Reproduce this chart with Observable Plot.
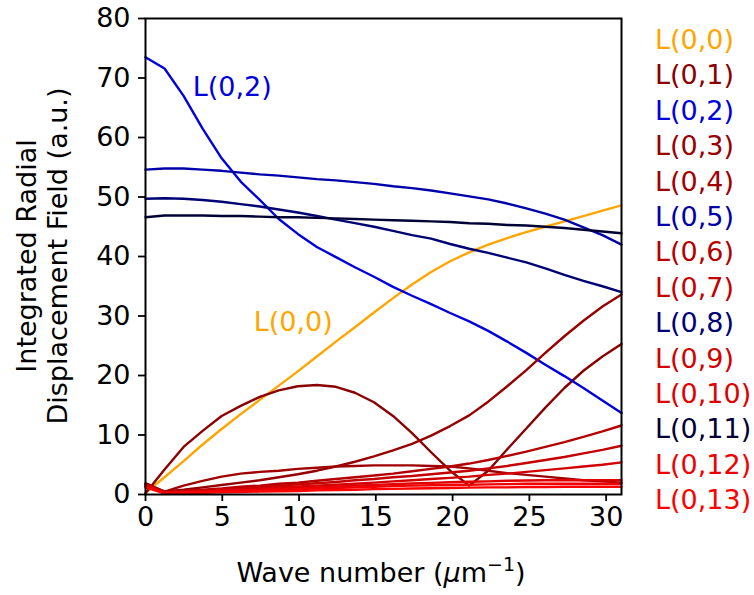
<!DOCTYPE html>
<html>
<head>
<meta charset="utf-8">
<script src="https://cdn.jsdelivr.net/npm/d3@7"></script>
<script src="https://cdn.jsdelivr.net/npm/@observablehq/plot@0.6"></script>
<style>
  html, body { margin: 0; padding: 0; background: #fff; }
  #wrap { position: relative; width: 754px; height: 595px; }
  #legend { position: absolute; left: 655px; top: 22px; font-family: "DejaVu Sans", sans-serif; font-size: 27px; line-height: 35.4px; }
</style>
</head>
<body>
<div id="wrap"><div id="legend"></div></div>
<script>
// Wave numbers (μm^-1) at which the fields were sampled
const waveNumbers = [0, 1.24, 2.48, 3.72, 4.96, 6.2, 7.44, 8.68, 9.92, 11.16, 12.4, 13.64, 14.88, 16.12, 17.36, 18.6, 19.84, 21.08, 22.32, 23.56, 24.8, 26.04, 27.28, 28.52, 29.76, 31.0];

const seriesNames = ["L(0,0)", "L(0,1)", "L(0,2)", "L(0,3)", "L(0,4)", "L(0,5)", "L(0,6)", "L(0,7)", "L(0,8)", "L(0,9)", "L(0,10)", "L(0,11)", "L(0,12)", "L(0,13)"];
const seriesColors = ["#ffa500", "#8b0000", "#0000dd", "#960000", "#a00000", "#0000aa", "#b40000", "#c40000", "#000075", "#d20000", "#e00000", "#000035", "#f00000", "#ff0000"];

const L00 = [0.3, 2.9, 5.6, 8.4, 11.0, 13.5, 15.9, 18.3, 20.7, 23.2, 25.7, 28.1, 30.6, 33.0, 35.3, 37.4, 39.2, 40.7, 42.0, 43.1, 44.1, 45.0, 45.9, 46.8, 47.7, 48.6];
const L01 = [0.2, 4.2, 8.0, 10.7, 13.2, 14.9, 16.4, 17.5, 18.2, 18.4, 18.1, 17.1, 15.5, 13.2, 10.3, 7.1, 4.0, 1.5, 4.0, 7.6, 11.1, 14.6, 17.9, 20.8, 23.2, 25.3];
const L02 = [73.5, 71.6, 67.0, 61.5, 56.5, 52.6, 49.5, 46.3, 43.8, 41.6, 39.9, 38.2, 36.6, 34.9, 33.4, 32.0, 30.5, 29.1, 27.5, 25.7, 23.8, 21.8, 19.9, 17.9, 15.8, 13.7];
const L03 = [1.9, 0.5, 0.8, 1.2, 1.6, 2.0, 2.4, 2.9, 3.4, 4.0, 4.7, 5.5, 6.4, 7.4, 8.5, 9.9, 11.5, 13.3, 15.6, 18.2, 20.9, 23.8, 26.6, 29.2, 31.6, 33.6];
const L04 = [1.8, 0.5, 1.5, 2.3, 3.0, 3.5, 3.8, 4.0, 4.3, 4.5, 4.7, 4.8, 4.9, 4.9, 4.9, 4.8, 4.7, 4.4, 4.0, 3.6, 3.3, 3.0, 2.7, 2.4, 2.2, 2.0];
const L05 = [54.6, 54.8, 54.8, 54.6, 54.4, 54.1, 53.8, 53.6, 53.3, 53.0, 52.8, 52.5, 52.2, 51.8, 51.5, 51.1, 50.6, 50.1, 49.6, 48.9, 48.1, 47.2, 46.2, 44.9, 43.6, 42.0];
const L06 = [1.7, 0.4, 0.6, 0.8, 1.0, 1.3, 1.5, 1.8, 2.0, 2.3, 2.6, 2.9, 3.2, 3.5, 3.9, 4.3, 4.7, 5.2, 5.8, 6.5, 7.2, 8.0, 8.8, 9.7, 10.6, 11.6];
const L07 = [1.6, 0.35, 0.5, 0.7, 0.9, 1.1, 1.3, 1.5, 1.7, 1.9, 2.1, 2.4, 2.6, 2.9, 3.1, 3.4, 3.7, 4.0, 4.4, 4.8, 5.3, 5.8, 6.3, 6.9, 7.5, 8.2];
const L08 = [49.7, 49.8, 49.7, 49.5, 49.2, 48.8, 48.4, 47.9, 47.4, 46.8, 46.2, 45.6, 45.0, 44.3, 43.6, 43.0, 42.1, 41.3, 40.6, 39.8, 39.0, 38.0, 36.9, 35.9, 35.0, 34.0];
const L09 = [1.5, 0.3, 0.45, 0.6, 0.75, 0.9, 1.05, 1.2, 1.35, 1.5, 1.65, 1.8, 2.0, 2.2, 2.4, 2.6, 2.8, 3.0, 3.3, 3.5, 3.8, 4.1, 4.4, 4.7, 5.0, 5.4];
const L10 = [1.4, 0.3, 0.4, 0.5, 0.6, 0.7, 0.8, 0.95, 1.1, 1.2, 1.35, 1.5, 1.6, 1.75, 1.85, 1.95, 2.05, 2.15, 2.2, 2.3, 2.35, 2.4, 2.4, 2.4, 2.4, 2.4];
const L11 = [46.6, 46.9, 46.9, 46.9, 46.8, 46.8, 46.7, 46.6, 46.6, 46.5, 46.4, 46.3, 46.2, 46.1, 46.0, 45.9, 45.8, 45.6, 45.5, 45.3, 45.2, 45.0, 44.8, 44.5, 44.2, 43.9];
const L12 = [1.3, 0.25, 0.3, 0.4, 0.5, 0.6, 0.7, 0.8, 0.9, 1.0, 1.1, 1.2, 1.3, 1.4, 1.5, 1.55, 1.6, 1.65, 1.7, 1.75, 1.8, 1.8, 1.8, 1.8, 1.8, 1.8];
const L13 = [1.2, 0.2, 0.25, 0.3, 0.35, 0.4, 0.5, 0.55, 0.6, 0.7, 0.75, 0.8, 0.9, 0.95, 1.0, 1.05, 1.1, 1.15, 1.2, 1.2, 1.25, 1.25, 1.3, 1.3, 1.3, 1.3];

const xTicks = [0, 5, 10, 15, 20, 25, 30];
const yTicks = [0, 10, 20, 30, 40, 50, 60, 70, 80];

// In-plot annotations (anchor in data units)
const annotNames = ["L(0,2)", "L(0,0)"];
const annotX = [3.07, 7.05];
const annotY = [68.4, 28.9];

const allSeries = [L00, L01, L02, L03, L04, L05, L06, L07, L08, L09, L10, L11, L12, L13];
const rows = [];
allSeries.forEach((vals, i) => {
  vals.forEach((v, j) => rows.push({series: seriesNames[i], k: waveNumbers[j], value: v}));
});
const annots = annotNames.map((t, i) => ({text: t, x: annotX[i], y: annotY[i], color: seriesColors[seriesNames.indexOf(t)]}));

const FONT = "DejaVu Sans, sans-serif";

const chart = Plot.plot({
  width: 754,
  height: 595,
  marginLeft: 145,
  marginRight: 133,
  marginTop: 18,
  marginBottom: 101,
  style: {fontFamily: FONT, fontSize: "27px", background: "#fff", color: "#000"},
  x: {domain: [0, 31]},
  y: {domain: [0, 80]},
  color: {domain: seriesNames, range: seriesColors},
  marks: [
    Plot.line(rows, {x: "k", y: "value", z: "series", stroke: "series", strokeWidth: 2.4, curve: "linear"}),
    Plot.text(annots, {x: "x", y: "y", text: "text", fill: "color", textAnchor: "start", fontSize: 27}),
    Plot.frame({stroke: "#000", strokeWidth: 2}),
    Plot.axisX({ticks: xTicks, tickSize: 7, tickPadding: 5, label: null, strokeWidth: 1.8, fontSize: 27}),
    Plot.axisY({ticks: yTicks, tickSize: 7, tickPadding: 8, label: null, strokeWidth: 1.8, fontSize: 27})
  ]
});

document.getElementById("wrap").prepend(chart);

// axis titles
const svg = d3.select(chart);
const xl = svg.append("text")
  .attr("x", 381).attr("y", 582)
  .attr("text-anchor", "middle")
  .attr("font-family", FONT).attr("font-size", 27).attr("fill", "#000");
xl.append("tspan").text("Wave number (");
xl.append("tspan").attr("font-style", "italic").text("μ");
xl.append("tspan").text("m");
xl.append("tspan").attr("font-size", 19).attr("dy", -11).text("−1");
xl.append("tspan").attr("dy", 11).text(")");

const yLines = ["Integrated Radial", "Displacement Field (a.u.)"];
const yLineX = [36, 67];
yLines.forEach((t, i) => {
  svg.append("text")
    .attr("transform", `translate(${yLineX[i]},256) rotate(-90)`)
    .attr("text-anchor", "middle")
    .attr("font-family", FONT).attr("font-size", 27).attr("fill", "#000")
    .text(t);
});

// right-hand list of mode labels
const legend = d3.select("#legend");
seriesNames.forEach((n, i) => {
  legend.append("div").style("color", seriesColors[i]).text(n);
});
</script>
</body>
</html>
